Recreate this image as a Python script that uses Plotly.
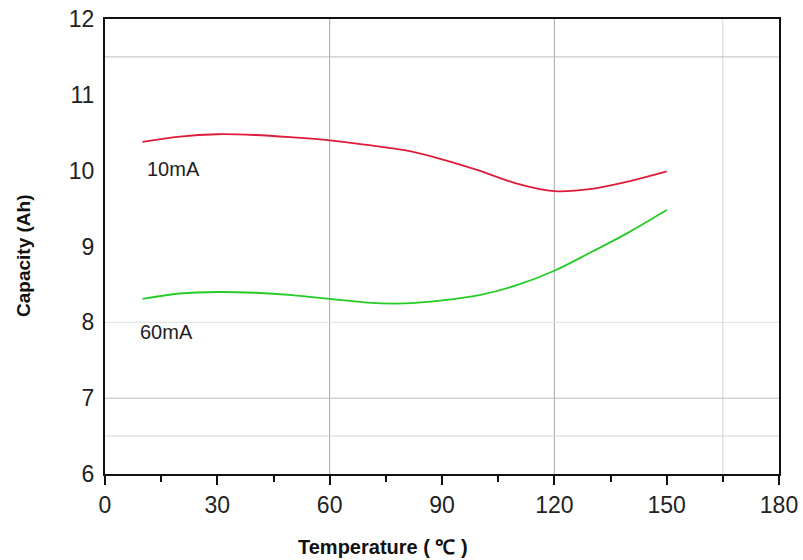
import plotly.graph_objects as go

temps = [10, 20, 30, 40, 50, 60, 70, 80, 90, 100, 110, 120, 130, 140, 150]
cap_10mA = [10.38, 10.45, 10.48, 10.47, 10.44, 10.40, 10.34, 10.27, 10.15, 10.00, 9.83, 9.73, 9.76, 9.86, 9.99]
cap_60mA = [8.31, 8.38, 8.40, 8.39, 8.36, 8.31, 8.26, 8.25, 8.29, 8.36, 8.49, 8.68, 8.93, 9.19, 9.48]
x_ticks = [0, 30, 60, 90, 120, 150, 180]
y_ticks = [6, 7, 8, 9, 10, 11, 12]
series_labels = ["10mA", "60mA"]

FONT = "Liberation Sans, Arial, sans-serif"

fig = go.Figure()
fig.add_trace(go.Scatter(x=temps, y=cap_10mA, mode="lines", line=dict(color="#de1c3a", width=1.8, shape="spline"), name=series_labels[0]))
fig.add_trace(go.Scatter(x=temps, y=cap_60mA, mode="lines", line=dict(color="#26cc26", width=1.8, shape="spline"), name=series_labels[1]))

# irregular grid lines
for xv, col in [(60, "#a8a8a8"), (120, "#a8a8a8"), (165, "#d4d4d4")]:
    fig.add_shape(type="line", xref="x", yref="paper", x0=xv, x1=xv, y0=0, y1=1, line=dict(color=col, width=1), layer="below")
for yv, col in [(11.5, "#bdbdbd"), (7, "#bdbdbd"), (6.5, "#d4d4d4"), (8, "#e0e0e0")]:
    fig.add_shape(type="line", xref="paper", yref="y", x0=0, x1=1, y0=yv, y1=yv, line=dict(color=col, width=1), layer="below")

fig.add_annotation(x=10.7, y=10.02, text=series_labels[0], showarrow=False, xanchor="left", yanchor="middle",
                   font=dict(family=FONT, size=20, color="#222"))
fig.add_annotation(x=8.8, y=7.87, text=series_labels[1], showarrow=False, xanchor="left", yanchor="middle",
                   font=dict(family=FONT, size=20, color="#222"))

# plot area on screen: left 105, width 674, top 19, height 455
fig.add_annotation(xref="paper", yref="paper", x=(383 - 105) / 674, y=(474 - 547) / 455, text="<b>Temperature ( ℃ )</b>",
                   showarrow=False, xanchor="center", yanchor="middle",
                   font=dict(family=FONT, size=20, color="#111"))
fig.add_annotation(xref="paper", yref="paper", x=(24 - 105) / 674, y=(474 - 256) / 455, text="<b>Capacity (Ah)</b>",
                   showarrow=False, textangle=-90, xanchor="center", yanchor="middle",
                   font=dict(family=FONT, size=19, color="#111"))

fig.update_layout(
    width=803, height=560,
    margin=dict(l=105, r=24, t=19, b=86),
    plot_bgcolor="white", paper_bgcolor="white",
    showlegend=False,
    font=dict(family=FONT, color="#222"),
    xaxis=dict(range=[0, 180], tickvals=x_ticks, showgrid=False, zeroline=False, automargin=False,
               ticklabeloverflow="allow",
               showline=True, mirror=True, linecolor="#111", linewidth=2,
               ticks="outside", ticklen=9, tickwidth=1.5, tickcolor="#111",
               minor=dict(dtick=15, ticks="outside", ticklen=6, tickcolor="#111", showgrid=False),
               tickfont=dict(size=23, color="#222")),
    yaxis=dict(range=[6, 12], tickvals=y_ticks, showgrid=False, zeroline=False, automargin=False,
               ticklabeloverflow="allow", ticklabelstandoff=4,
               showline=True, mirror=True, linecolor="#111", linewidth=2,
               ticks="", tickfont=dict(size=23, color="#222")),
)

fig.write_html("out.html", config={"displayModeBar": False},
               post_script="document.body.style.margin='0';document.body.style.overflow='hidden';")
